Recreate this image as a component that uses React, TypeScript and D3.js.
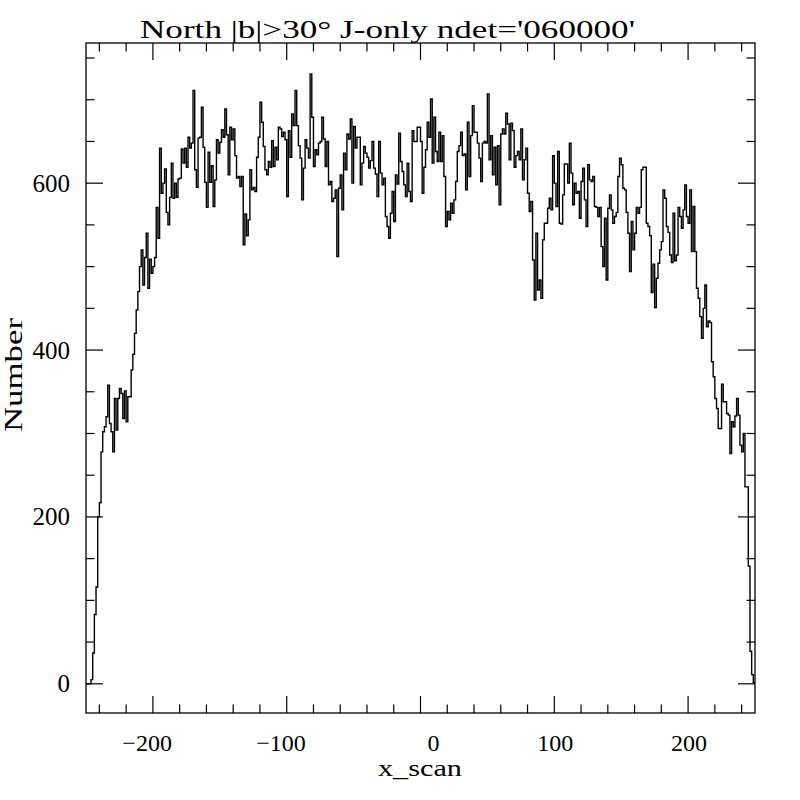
import React from "react";
import * as d3 from "d3";

// ---- data (histogram counts, bins of 1.25 in x_scan starting at -250) ----
const countsA = [0, 0, 0, 5, 37, 83, 116, 200, 217, 278, 302, 308, 320, 358, 312, 302, 278, 342, 304, 342, 354, 348, 318, 351, 314, 344, 344, 376, 395, 420, 448, 470];
const countsB = [500, 520, 478, 511, 540, 474, 509, 492, 500, 511, 571, 534, 642, 588, 600, 617, 565, 550, 583, 624, 582, 600, 583, 605, 606, 641, 624, 642, 619, 655, 642, 648, 711, 616, 595, 654, 655, 691, 643, 601, 571, 637];
const countsC = [601, 621, 572, 604, 652, 636, 649, 664, 655, 689, 658, 610, 667, 652, 665, 633, 606, 608, 596, 608, 526, 563, 537, 556, 616, 592, 595, 590, 631, 655, 697, 673, 644, 616, 610, 626, 619, 651, 620, 643, 628, 667];
const countsD = [665, 656, 661, 652, 584, 663, 631, 683, 669, 711, 669, 645, 630, 580, 618, 652, 642, 630, 731, 679, 620, 640, 634, 648, 650, 679, 653, 620, 650, 598, 602, 578, 582, 592, 512, 594, 610, 568, 636, 616, 659, 653];
const countsE = [677, 600, 668, 642, 655, 655, 598, 624, 644, 636, 631, 618, 627, 650, 618, 611, 584, 650, 612, 598, 606, 560, 548, 534, 564, 590, 554, 610, 599, 660, 626, 614, 598, 584, 624, 590, 578, 663, 650, 650, 667, 667];
const countsF = [650, 588, 619, 640, 673, 655, 701, 624, 679, 638, 626, 661, 626, 657, 608, 548, 566, 556, 576, 564, 580, 602, 638, 645, 661, 633, 635, 592, 673, 608, 657, 693, 661, 661, 648, 630, 602, 648, 650, 648, 707, 628];
const countsG = [657, 610, 643, 598, 645, 574, 659, 665, 659, 684, 671, 628, 672, 663, 619, 633, 638, 628, 665, 604, 628, 642, 588, 566, 578, 508, 460, 540, 472, 484, 462, 532, 552, 552, 570, 582, 568, 633, 600, 572, 638, 552];
const countsH = [551, 586, 623, 623, 600, 648, 612, 574, 600, 588, 590, 558, 602, 618, 580, 548, 622, 604, 602, 608, 572, 571, 560, 571, 524, 500, 558, 484, 570, 586, 568, 552, 560, 565, 608, 630, 622, 594, 592, 565, 540, 494];
const countsI = [554, 520, 540, 571, 564, 571, 616, 619, 619, 552, 548, 537, 469, 503, 451, 486, 504, 520, 530, 592, 582, 548, 541, 514, 505, 564, 507, 514, 571, 560, 546, 568, 598, 560, 552, 592, 518, 572, 518, 474, 462, 440];
const countsJ = [414, 450, 478, 428, 435, 433, 386, 368, 342, 330, 306, 306, 359, 338, 338, 324, 322, 276, 314, 308, 321, 342, 322, 286, 278, 300, 236, 236, 141, 39, 11, 1, 0];

const counts = [
  ...countsA, ...countsB, ...countsC, ...countsD, ...countsE,
  ...countsF, ...countsG, ...countsH, ...countsI, ...countsJ,
];
const binStart = -250;
const binWidth = 1.25;

const xDomain = [-250, 250];
const yDomain = [-35, 768];

const xMajorTicks = [-200, -100, 0, 100, 200];
const xMinorTicks = [-240, -220, -200, -180, -160, -140, -120, -100, -80, -60, -40, -20, 0, 20, 40, 60, 80, 100, 120, 140, 160, 180, 200, 220, 240];
const yMajorTicks = [0, 200, 400, 600];
const yMinorTicks = [0, 50, 100, 150, 200, 250, 300, 350, 400, 450, 500, 550, 600, 650, 700, 750];

const title = "North |b|>30\u00B0 J-only ndet='060000'";
const xLabel = "x_scan";
const yLabel = "Number";

const fmt = (v: number) => (v < 0 ? "\u2212" + Math.abs(v) : String(v));

export default function App() {
  const left = 86, right = 755, top = 43, bottom = 713;
  const x = d3.scaleLinear().domain(xDomain).range([left, right]);
  const y = d3.scaleLinear().domain(yDomain).range([bottom, top]);

  const pts: [number, number][] = counts.map((c, i) => [binStart + i * binWidth, c]);
  pts.push([binStart + counts.length * binWidth, counts[counts.length - 1]]);
  const line = d3
    .line<[number, number]>()
    .x((d) => x(d[0]))
    .y((d) => y(d[1]))
    .curve(d3.curveStepAfter);

  const majorLen = 17;
  const minorLen = 8.5;
  const font = "'Liberation Serif', 'DejaVu Serif', serif";
  const tickStroke = 1.2;

  return (
    <svg
      width={800}
      height={800}
      style={{ position: "absolute", left: 0, top: 0, background: "#fff" }}
    >
      <defs>
        <clipPath id="plotclip">
          <rect x={left} y={top} width={right - left} height={bottom - top} />
        </clipPath>
      </defs>
      <rect x={0} y={0} width={800} height={800} fill="#fff" />

      {/* x ticks bottom and top */}
      {xMinorTicks.map((t) => {
        const len = xMajorTicks.includes(t) ? majorLen : minorLen;
        return (
          <g key={"xt" + t} stroke="#000" strokeWidth={tickStroke}>
            <line x1={x(t)} x2={x(t)} y1={bottom} y2={bottom - len} />
            <line x1={x(t)} x2={x(t)} y1={top} y2={top + len} />
          </g>
        );
      })}
      {/* y ticks left and right */}
      {yMinorTicks.map((t) => {
        const len = yMajorTicks.includes(t) ? majorLen : minorLen;
        return (
          <g key={"yt" + t} stroke="#000" strokeWidth={tickStroke}>
            <line x1={left} x2={left + len} y1={y(t)} y2={y(t)} />
            <line x1={right} x2={right - len} y1={y(t)} y2={y(t)} />
          </g>
        );
      })}

      {/* histogram */}
      <path
        d={line(pts) || ""}
        fill="none"
        stroke="#000"
        strokeWidth={1.4}
        strokeLinejoin="miter"
        clipPath="url(#plotclip)"
      />

      {/* frame */}
      <rect
        x={left}
        y={top}
        width={right - left}
        height={bottom - top}
        fill="none"
        stroke="#000"
        strokeWidth={1.3}
      />

      {/* x tick labels */}
      {xMajorTicks.map((t) => (
        <text
          key={"xl" + t}
          x={x(t) + 19}
          y={751}
          textAnchor="end"
          fontFamily={font}
          fontSize={24}
          fill="#000"
        >
          {fmt(t)}
        </text>
      ))}
      {/* y tick labels */}
      {yMajorTicks.map((t) => (
        <text
          key={"yl" + t}
          x={70}
          y={y(t) + 8.5}
          textAnchor="end"
          fontFamily={font}
          fontSize={25}
          fill="#000"
        >
          {fmt(t)}
        </text>
      ))}

      {/* title */}
      <text
        x={140}
        y={38}
        fontFamily={font}
        fontSize={25}
        textLength={495}
        lengthAdjust="spacingAndGlyphs"
        fill="#000"
      >
        {title}
      </text>

      {/* axis labels */}
      <text
        x={378}
        y={776}
        fontFamily={font}
        fontSize={24}
        textLength={84}
        lengthAdjust="spacingAndGlyphs"
        fill="#000"
      >
        {xLabel}
      </text>
      <text
        transform="translate(22,432) rotate(-90)"
        x={0}
        y={0}
        fontFamily={font}
        fontSize={25}
        textLength={114}
        lengthAdjust="spacingAndGlyphs"
        fill="#000"
      >
        {yLabel}
      </text>
    </svg>
  );
}
